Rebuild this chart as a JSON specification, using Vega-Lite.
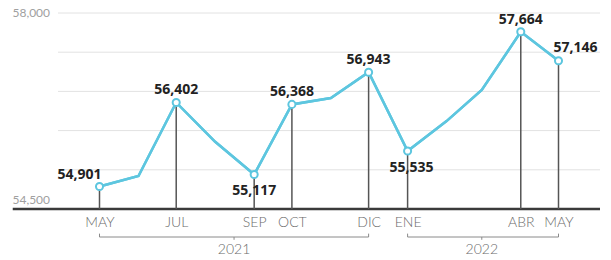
{
  "$schema": "https://vega.github.io/schema/vega-lite/v6.json",
  "width": 542,
  "height": 196,
  "autosize": {"type": "none"},
  "padding": {"left": 58, "top": 13, "right": 11, "bottom": 51},
  "background": "white",
  "config": {"view": {"stroke": null}, "font": "Lato"},
  "datasets": {
    "serie": [
      {"fecha": "2021-05-01", "mes": "MAY", "anio": 2021, "valor": 54901, "etiqueta": true},
      {"fecha": "2021-06-01", "mes": "JUN", "anio": 2021, "valor": 55090, "etiqueta": false},
      {"fecha": "2021-07-01", "mes": "JUL", "anio": 2021, "valor": 56402, "etiqueta": true},
      {"fecha": "2021-08-01", "mes": "AGO", "anio": 2021, "valor": 55700, "etiqueta": false},
      {"fecha": "2021-09-01", "mes": "SEP", "anio": 2021, "valor": 55117, "etiqueta": true},
      {"fecha": "2021-10-01", "mes": "OCT", "anio": 2021, "valor": 56368, "etiqueta": true},
      {"fecha": "2021-11-01", "mes": "NOV", "anio": 2021, "valor": 56482, "etiqueta": false},
      {"fecha": "2021-12-01", "mes": "DIC", "anio": 2021, "valor": 56943, "etiqueta": true},
      {"fecha": "2022-01-01", "mes": "ENE", "anio": 2022, "valor": 55535, "etiqueta": true},
      {"fecha": "2022-02-01", "mes": "FEB", "anio": 2022, "valor": 56070, "etiqueta": false},
      {"fecha": "2022-03-01", "mes": "MAR", "anio": 2022, "valor": 56625, "etiqueta": false},
      {"fecha": "2022-04-01", "mes": "ABR", "anio": 2022, "valor": 57664, "etiqueta": true},
      {"fecha": "2022-05-01", "mes": "MAY", "anio": 2022, "valor": 57146, "etiqueta": true}
    ],
    "rejilla": [
      {"nivel": 55200}, {"nivel": 55900}, {"nivel": 56600}, {"nivel": 57300}, {"nivel": 58000}
    ],
    "anios": [
      {"anio": "2021", "inicio": "2021-05-01", "fin": "2021-12-01", "medio": "2021-08-16"},
      {"anio": "2022", "inicio": "2022-01-01", "fin": "2022-05-01", "medio": "2022-03-01"}
    ]
  },
  "layer": [
    {
      "data": {"name": "rejilla"},
      "mark": {"type": "rule", "color": "#e2e2e2", "strokeWidth": 1},
      "encoding": {
        "x": {"datum": {"year": 2021, "month": 3, "date": 29, "utc": true}, "type": "temporal"},
        "x2": {"datum": {"year": 2022, "month": 6, "date": 3, "utc": true}},
        "y": {"field": "nivel", "type": "quantitative", "title": null}
      }
    },
    {
      "data": {"name": "serie"},
      "mark": {"type": "line", "color": "#5dc6df", "strokeWidth": 2.5},
      "encoding": {
        "x": {
          "field": "fecha",
          "type": "temporal",
          "scale": {
            "type": "utc",
            "domain": [
              {"year": 2021, "month": 3, "date": 29, "utc": true},
              {"year": 2022, "month": 6, "date": 3, "utc": true}
            ]
          },
          "axis": {
            "title": null,
            "values": [
              {"year": 2021, "month": 5, "date": 1, "utc": true},
              {"year": 2021, "month": 7, "date": 1, "utc": true},
              {"year": 2021, "month": 9, "date": 1, "utc": true},
              {"year": 2021, "month": 10, "date": 1, "utc": true},
              {"year": 2021, "month": 12, "date": 1, "utc": true},
              {"year": 2022, "month": 1, "date": 1, "utc": true},
              {"year": 2022, "month": 4, "date": 1, "utc": true},
              {"year": 2022, "month": 5, "date": 1, "utc": true}
            ],
            "labelExpr": "['ENE','FEB','MAR','ABR','MAY','JUN','JUL','AGO','SEP','OCT','NOV','DIC'][utcmonth(datum.value)]",
            "domain": false,
            "ticks": false,
            "tickSize": 0,
            "grid": false,
            "labelPadding": 6,
            "labelFontSize": 14,
            "labelFont": "Lato",
            "labelFontWeight": 300,
            "labelColor": "#6b6b6b",
            "labelBaseline": "top",
            "labelOverlap": false,
            "labelFlush": false
          }
        },
        "y": {
          "field": "valor",
          "type": "quantitative",
          "scale": {"domain": [54500, 58000], "nice": false, "zero": false},
          "axis": {
            "title": null,
            "values": [54500, 58000],
            "grid": false,
            "domain": false,
            "ticks": false,
            "tickSize": 0,
            "labelOverlap": false,
            "labelFlush": false,
            "labelExpr": "format(datum.value, ',')",
            "labelAlign": "left",
            "labelPadding": 46,
            "labelFontSize": 12,
            "labelFont": "Lato",
            "labelColor": "#a0a0a0",
            "labelBaseline": {"condition": {"test": "datum.value == 54500", "value": "bottom"}, "value": "middle"},
            "labelOffset": {"condition": {"test": "datum.value == 54500", "value": -3}, "value": -1}
          }
        }
      }
    },
    {
      "data": {"values": [{}]},
      "mark": {"type": "rule", "color": "#3a3a3a", "strokeWidth": 2.5},
      "encoding": {
        "x": {"datum": {"year": 2021, "month": 2, "date": 21, "utc": true}, "type": "temporal"},
        "x2": {"datum": {"year": 2022, "month": 6, "date": 3, "utc": true}},
        "y": {"datum": 54500, "type": "quantitative"}
      }
    },
    {
      "data": {"name": "serie"},
      "transform": [{"filter": "datum.etiqueta"}],
      "mark": {"type": "rule", "color": "#555555", "strokeWidth": 1.5},
      "encoding": {
        "x": {"field": "fecha", "type": "temporal"},
        "y": {"field": "valor", "type": "quantitative"},
        "y2": {"datum": 54500}
      }
    },
    {
      "data": {"name": "serie"},
      "mark": {"type": "line", "color": "#5dc6df", "strokeWidth": 2.5},
      "encoding": {
        "x": {"field": "fecha", "type": "temporal"},
        "y": {"field": "valor", "type": "quantitative"}
      }
    },
    {
      "data": {"name": "serie"},
      "transform": [{"filter": "datum.etiqueta"}],
      "mark": {"type": "circle", "fill": "white", "stroke": "#5dc6df", "strokeWidth": 2, "size": 50, "opacity": 1},
      "encoding": {
        "x": {"field": "fecha", "type": "temporal"},
        "y": {"field": "valor", "type": "quantitative"}
      }
    },
    {
      "data": {"name": "serie"},
      "transform": [{"filter": "datum.etiqueta && (datum.mes == 'JUL' || datum.mes == 'OCT' || datum.mes == 'DIC' || datum.mes == 'ABR')"}],
      "mark": {"type": "text", "font": "Open Sans", "fontWeight": "bold", "fontSize": 14, "color": "#222222", "align": "center", "baseline": "alphabetic", "dy": -8},
      "encoding": {
        "x": {"field": "fecha", "type": "temporal"},
        "y": {"field": "valor", "type": "quantitative"},
        "text": {"field": "valor", "type": "quantitative", "format": ","}
      }
    },
    {
      "data": {"name": "serie"},
      "transform": [{"filter": "datum.mes == 'MAY' && datum.anio == 2021"}],
      "mark": {"type": "text", "font": "Open Sans", "fontWeight": "bold", "fontSize": 14, "color": "#222222", "align": "right", "baseline": "alphabetic", "dx": 2, "dy": -8},
      "encoding": {
        "x": {"field": "fecha", "type": "temporal"},
        "y": {"field": "valor", "type": "quantitative"},
        "text": {"field": "valor", "type": "quantitative", "format": ","}
      }
    },
    {
      "data": {"name": "serie"},
      "transform": [{"filter": "datum.mes == 'MAY' && datum.anio == 2022"}],
      "mark": {"type": "text", "font": "Open Sans", "fontWeight": "bold", "fontSize": 14, "color": "#222222", "align": "center", "baseline": "alphabetic", "dx": 17, "dy": -9},
      "encoding": {
        "x": {"field": "fecha", "type": "temporal"},
        "y": {"field": "valor", "type": "quantitative"},
        "text": {"field": "valor", "type": "quantitative", "format": ","}
      }
    },
    {
      "data": {"name": "serie"},
      "transform": [{"filter": "datum.mes == 'SEP'"}],
      "mark": {"type": "text", "font": "Open Sans", "fontWeight": "bold", "fontSize": 14, "color": "#222222", "align": "center", "baseline": "alphabetic", "dy": 21},
      "encoding": {
        "x": {"field": "fecha", "type": "temporal"},
        "y": {"field": "valor", "type": "quantitative"},
        "text": {"field": "valor", "type": "quantitative", "format": ","}
      }
    },
    {
      "data": {"name": "serie"},
      "transform": [{"filter": "datum.mes == 'ENE'"}],
      "mark": {"type": "text", "font": "Open Sans", "fontWeight": "bold", "fontSize": 14, "color": "#222222", "align": "center", "baseline": "alphabetic", "dx": 4, "dy": 21},
      "encoding": {
        "x": {"field": "fecha", "type": "temporal"},
        "y": {"field": "valor", "type": "quantitative"},
        "text": {"field": "valor", "type": "quantitative", "format": ","}
      }
    },
    {
      "data": {"name": "anios"},
      "mark": {"type": "rule", "color": "#8a8a8a", "strokeWidth": 1},
      "encoding": {
        "x": {"field": "inicio", "type": "temporal"},
        "x2": {"field": "fin"},
        "y": {"datum": 54000, "type": "quantitative"}
      }
    },
    {
      "data": {"name": "anios"},
      "mark": {"type": "rule", "color": "#8a8a8a", "strokeWidth": 1},
      "encoding": {
        "x": {"field": "inicio", "type": "temporal"},
        "y": {"datum": 54000, "type": "quantitative"},
        "y2": {"datum": 54060}
      }
    },
    {
      "data": {"name": "anios"},
      "mark": {"type": "rule", "color": "#8a8a8a", "strokeWidth": 1},
      "encoding": {
        "x": {"field": "fin", "type": "temporal"},
        "y": {"datum": 54000, "type": "quantitative"},
        "y2": {"datum": 54060}
      }
    },
    {
      "data": {"name": "anios"},
      "mark": {"type": "rule", "color": "#8a8a8a", "strokeWidth": 1},
      "encoding": {
        "x": {"field": "medio", "type": "temporal"},
        "y": {"datum": 54000, "type": "quantitative"},
        "y2": {"datum": 53950}
      }
    },
    {
      "data": {"name": "anios"},
      "mark": {"type": "text", "font": "Lato", "fontWeight": 300, "fontSize": 14, "color": "#6b6b6b", "align": "center", "baseline": "middle"},
      "encoding": {
        "x": {"field": "medio", "type": "temporal"},
        "y": {"datum": 53768, "type": "quantitative"},
        "text": {"field": "anio"}
      }
    }
  ]
}
